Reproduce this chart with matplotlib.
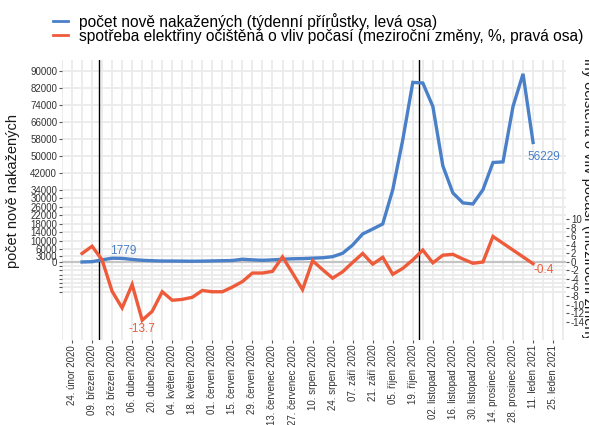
import pandas as pd
import matplotlib
matplotlib.use("Agg")
import matplotlib.pyplot as plt
from matplotlib.transforms import Bbox

# ---------------------------------------------------------
# DATA
# ---------------------------------------------------------
# weekly new cases, weeks starting 02. březen 2020 .. 11. leden 2021
cases_start = "2020-03-02"
cases = [
    5, 150, 1000, 1779, 1700, 1200, 800, 600, 450, 450,
    400, 350, 400, 500, 600, 700, 1300, 1000, 800, 1000,
    1300, 1500, 1600, 1800, 2000, 2500, 4100, 8000, 13200, 15500,
    17900, 34000, 57500, 84500, 84200, 73200, 45200, 32500, 27800, 27300,
    34000, 46800, 47100, 73200, 88500, 56229,
]

# weather-adjusted electricity consumption, y/y %, same weekly grid
power_dates = [
    "2020-03-02", "2020-03-09", "2020-03-16", "2020-03-23", "2020-03-30",
    "2020-04-06", "2020-04-13", "2020-04-20", "2020-04-27", "2020-05-04",
    "2020-05-11", "2020-05-18", "2020-05-25", "2020-06-01", "2020-06-08",
    "2020-06-15", "2020-06-22", "2020-06-29", "2020-07-06", "2020-07-13",
    "2020-07-20", "2020-07-27", "2020-08-03", "2020-08-10", "2020-08-17",
    "2020-08-24", "2020-08-31", "2020-09-07", "2020-09-14", "2020-09-21",
    "2020-09-28", "2020-10-05", "2020-10-12", "2020-10-19", "2020-10-26",
    "2020-11-02", "2020-11-09", "2020-11-16", "2020-11-23", "2020-11-30",
    "2020-12-07", "2020-12-14", "2021-01-11",
]
power = [
    2.0, 3.7, 0.5, -6.9, -10.8, -5.3, -13.7, -11.6, -7.0, -9.0,
    -8.8, -8.3, -6.7, -7.0, -7.0, -5.9, -4.6, -2.6, -2.6, -2.2,
    1.2, -2.6, -6.5, 0.3, -1.8, -3.8, -2.3, -0.1, 2.0, -0.5,
    1.1, -2.9, -1.5, 0.5, 2.8, -0.2, 1.6, 1.8, 0.7, -0.3,
    0.0, 6.0, -0.4,
]

event_dates = ["2020-03-14", "2020-10-23"]

left_ticks = [-14000, -12000, -10000, -8000, -6000, -4000, -2000, 0, 3000, 6000,
              10000, 14000, 18000, 22000, 26000, 30000, 34000,
              42000, 50000, 58000, 66000, 74000, 82000, 90000]
right_ticks = [-14, -12, -10, -8, -6, -4, -2, 0, 2, 4, 6, 8, 10]

months_cz = {1: "leden", 2: "únor", 3: "březen", 4: "duben", 5: "květen", 6: "červen",
             7: "červenec", 8: "srpen", 9: "září", 10: "říjen", 11: "listopad", 12: "prosinec"}

BLUE = "#4a80c8"
ORANGE = "#ee5b3a"
SCALE = 2000  # left units per one right-axis unit

plt.rcParams["font.family"] = ["Liberation Sans", "DejaVu Sans"]

case_dates = pd.date_range(cases_start, periods=len(cases), freq="7D")
power_dates = pd.to_datetime(power_dates)

fig = plt.figure(figsize=(5.89, 4.25), dpi=100)
ax = fig.add_axes([62 / 589, 85 / 425, 504 / 589, 280 / 425])
ax2 = ax.twinx()

ylo, yhi = -36700, 95030
ax.set_ylim(ylo, yhi)
ax2.set_ylim(ylo / SCALE, yhi / SCALE)
ax.set_xlim(pd.Timestamp("2020-02-17"), pd.Timestamp("2021-02-03"))

# grid
weekly = pd.date_range("2020-02-17", "2021-02-01", freq="7D")
for d in weekly:
    ax.axvline(d, color="#ebebeb", lw=1.3, zorder=0)
for t in left_ticks:
    if t != 0:
        ax.axhline(t, color="#ebebeb", lw=1.3, zorder=0)
ax.axhline(0, color="#c4c4c4", lw=1.6, zorder=1)

for d in event_dates:
    ax.axvline(pd.Timestamp(d), color="black", lw=1.0, zorder=2)

ax.plot(case_dates, cases, color=BLUE, lw=2.4, zorder=3, solid_joinstyle="miter")
ax2.plot(power_dates, power, color=ORANGE, lw=2.4, zorder=3, solid_joinstyle="miter")

# value labels
ax.annotate(f"{cases[3]}", (case_dates[3], cases[3]), xytext=(8, 1), textcoords="offset points",
            ha="center", va="bottom", color=BLUE, fontsize=8.5)
ax.annotate(f"{cases[-1]}", (case_dates[-1], cases[-1]), xytext=(-4, -6), textcoords="offset points",
            ha="left", va="top", color=BLUE, fontsize=8.5)
imin = power.index(min(power))
ax2.annotate(f"{power[imin]}", (power_dates[imin], power[imin]), xytext=(0, -2), textcoords="offset points",
             ha="center", va="top", color=ORANGE, fontsize=8.5)
ax2.annotate(f"{power[-1]}", (power_dates[-1], power[-1]), xytext=(0, 0), textcoords="offset points",
             ha="left", va="top", color=ORANGE, fontsize=8.5)

# axes / ticks
tick_dates = pd.date_range("2020-02-24", "2021-01-25", freq="14D")
ax.set_xticks(tick_dates)
ax.set_xticklabels([f"{d.day:02d}. {months_cz[d.month]} {d.year}" for d in tick_dates],
                   rotation=90, fontsize=7, color="#333333")
ax.set_yticks(left_ticks)
ax.set_yticklabels([str(t) if t >= 0 else "" for t in left_ticks], fontsize=7, color="#333333")
ax2.set_yticks(right_ticks)
ax2.set_yticklabels([str(t) for t in right_ticks], fontsize=7, color="#333333")
for a in (ax, ax2):
    a.tick_params(length=2.5, width=0.8, color="#555555", pad=1)
    for s in a.spines.values():
        s.set_visible(False)

fig.text(13 / 589, 1 - 191 / 425, "počet nově nakažených", rotation=90, ha="center", va="center",
         fontsize=10.5, color="#1a1a1a")
rt = fig.text(588 / 589, 1 - 200 / 425,
              "spotřeba elektřiny očištěná o vliv počasí (meziroční změny, %, pravá osa)",
              rotation=270, ha="center", va="center", fontsize=10.5, color="#1a1a1a")
rt.set_clip_box(Bbox.from_extents(560, 425 - 338, 589, 425 - 57))
rt.set_clip_on(True)

# legend
lines = [plt.Line2D([], [], color=BLUE, lw=2), plt.Line2D([], [], color=ORANGE, lw=2)]
fig.legend(lines, ["počet nově nakažených (týdenní přírůstky, levá osa)",
                   "spotřeba elektřiny očištěná o vliv počasí (meziroční změny, %, pravá osa)"],
           loc="upper left", bbox_to_anchor=(42 / 589, 1 - 2 / 425), frameon=False,
           fontsize=11.2, handlelength=1.0, handletextpad=0.7, labelspacing=-0.08,
           borderpad=0.2)

fig.savefig("out.png", dpi=100)
